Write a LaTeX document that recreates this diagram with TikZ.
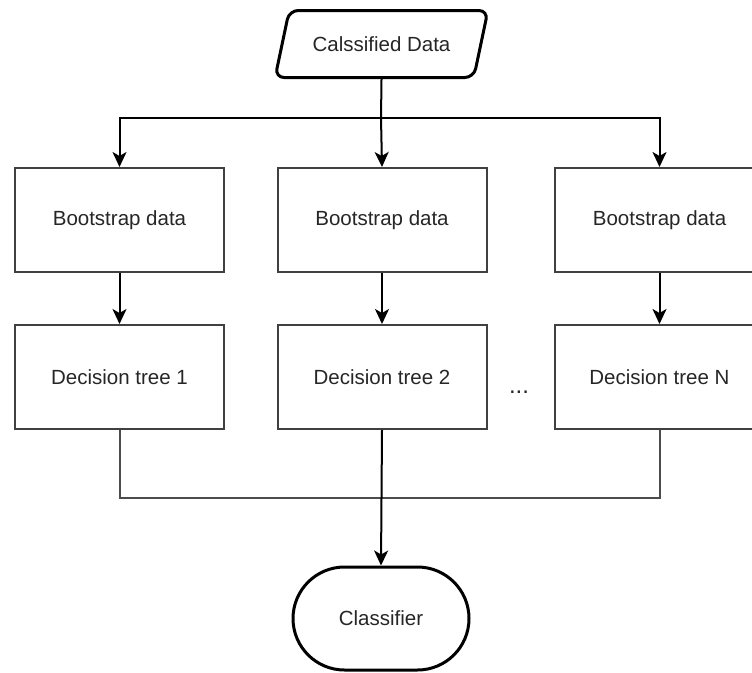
\documentclass[tikz,border=0pt]{standalone}
\usepackage{fontspec}
\setmainfont{Liberation Sans}
\usetikzlibrary{shapes.geometric,shapes.misc,arrows.meta}
\tikzset{
  stepbox/.style={draw=black!75,line width=2pt,minimum width=209,minimum height=104,inner sep=0},
  io/.style={draw,line width=3pt,trapezium,trapezium left angle=55,trapezium right angle=125,
    trapezium stretches=true,minimum width=213,minimum height=67,rounded corners=9,inner sep=0},
  term/.style={draw,line width=3pt,rounded rectangle,minimum width=176,minimum height=103,inner sep=0},
  flow/.style={line width=2pt,-{Stealth[length=15pt,width=14pt,inset=4pt]}},
  link/.style={line width=2pt,draw=black!70}
}
\begin{document}
\begin{tikzpicture}[x=1pt,y=-1pt,font=\fontsize{20.5}{24}\selectfont,text=black!85]
\useasboundingbox (0,0) rectangle (752,672);
\node[io] (data) at (381.5,44) {Calssified Data};
\node[stepbox] (boot1) at (119.5,220) {Bootstrap data};
\node[stepbox] (boot2) at (382,220) {Bootstrap data};
\node[stepbox] (boot3) at (659.5,220) {Bootstrap data};
\node[stepbox] (tree1) at (119.5,377) {Decision tree 1};
\node[stepbox] (tree2) at (382,377) {Decision tree 2};
\node[stepbox] (tree3) at (659.5,377) {Decision tree N};
\node[font=\fontsize{24}{28}\selectfont] (dots) at (519,392) {...};
\node[term] (clf) at (381,618.5) {Classifier};
\coordinate (split) at (381,118);
\coordinate (merge) at (381,498);
\draw[line width=2pt] (data.south) -- (split);
\draw[flow] (split) -| (boot1.north);
\draw[flow] (split) -| (boot3.north);
\draw[flow] (split) -- (boot2.north);
\foreach \i in {1,2,3}
  \draw[flow] (boot\i) -- (tree\i);
\draw[link] (tree1.south) |- (merge) -| (tree3.south);
\draw[flow] (tree2.south) -- (clf.north);
\end{tikzpicture}
\end{document}
